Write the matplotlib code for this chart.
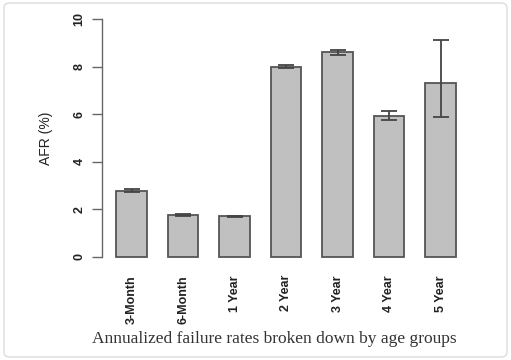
import matplotlib.pyplot as plt
from matplotlib.patches import FancyBboxPatch

groups = ['3-Month', '6-Month', '1 Year', '2 Year', '3 Year', '4 Year', '5 Year']
afr = [2.78, 1.77, 1.71, 7.99, 8.60, 5.93, 7.32]
err_low = [2.72, 1.74, 1.68, 7.93, 8.50, 5.75, 5.90]
err_high = [2.84, 1.80, 1.73, 8.05, 8.70, 6.12, 9.10]

W, H = 511, 360
fig = plt.figure(figsize=(W / 100, H / 100), dpi=100)

# rounded frame around the whole picture
frame = FancyBboxPatch((4 / W, 3 / H), 503 / W, 354 / H,
                       boxstyle='round,pad=0,rounding_size=0.012',
                       transform=fig.transFigure, fill=False,
                       edgecolor='#dcdcdc', linewidth=1.0)
fig.patches.append(frame)

ax = fig.add_axes([102 / W, 1 - 257 / H, (490 - 102) / W, (257 - 19) / H])

x = list(range(len(groups)))
ax.bar(x, afr, width=0.6, color='#c0c0c0', edgecolor='#555555', linewidth=1.3,
       clip_on=False, zorder=2)
lo = [a - l for a, l in zip(afr, err_low)]
hi = [h - a for a, h in zip(afr, err_high)]
ax.errorbar(x, afr, yerr=[lo, hi], fmt='none', ecolor='#444444', elinewidth=1.3,
            capsize=5.5, capthick=1.3, clip_on=False, zorder=3)

ax.set_xlim(-0.573, 6.96)
ax.set_ylim(0, 10)
for s in ['top', 'right', 'bottom']:
    ax.spines[s].set_visible(False)
ax.spines['left'].set_color('#666666')
ax.spines['left'].set_linewidth(1.0)

ax.set_yticks([0, 2, 4, 6, 8, 10])
ax.set_yticklabels(['0', '2', '4', '6', '8', '10'], rotation=90, va='center',
                   fontsize=9, family='Liberation Sans', color='#222222',
                   weight='bold')
ax.tick_params(axis='y', length=7, width=1.0, color='#666666', pad=5)

ax.set_xticks(x)
ax.set_xticklabels(groups, rotation=90, fontsize=9, family='Liberation Sans',
                   color='#222222', weight='bold')
ax.tick_params(axis='x', length=0, pad=13)

ax.set_ylabel('AFR (%)', fontsize=10, family='Liberation Sans', color='#222222',
              labelpad=15)
fig.text(274 / W, 1 - 339 / H, 'Annualized failure rates broken down by age groups',
         ha='center', va='center', fontsize=12.5, family='Liberation Serif',
         color='#333333')

fig.savefig('out.png', dpi=100)
